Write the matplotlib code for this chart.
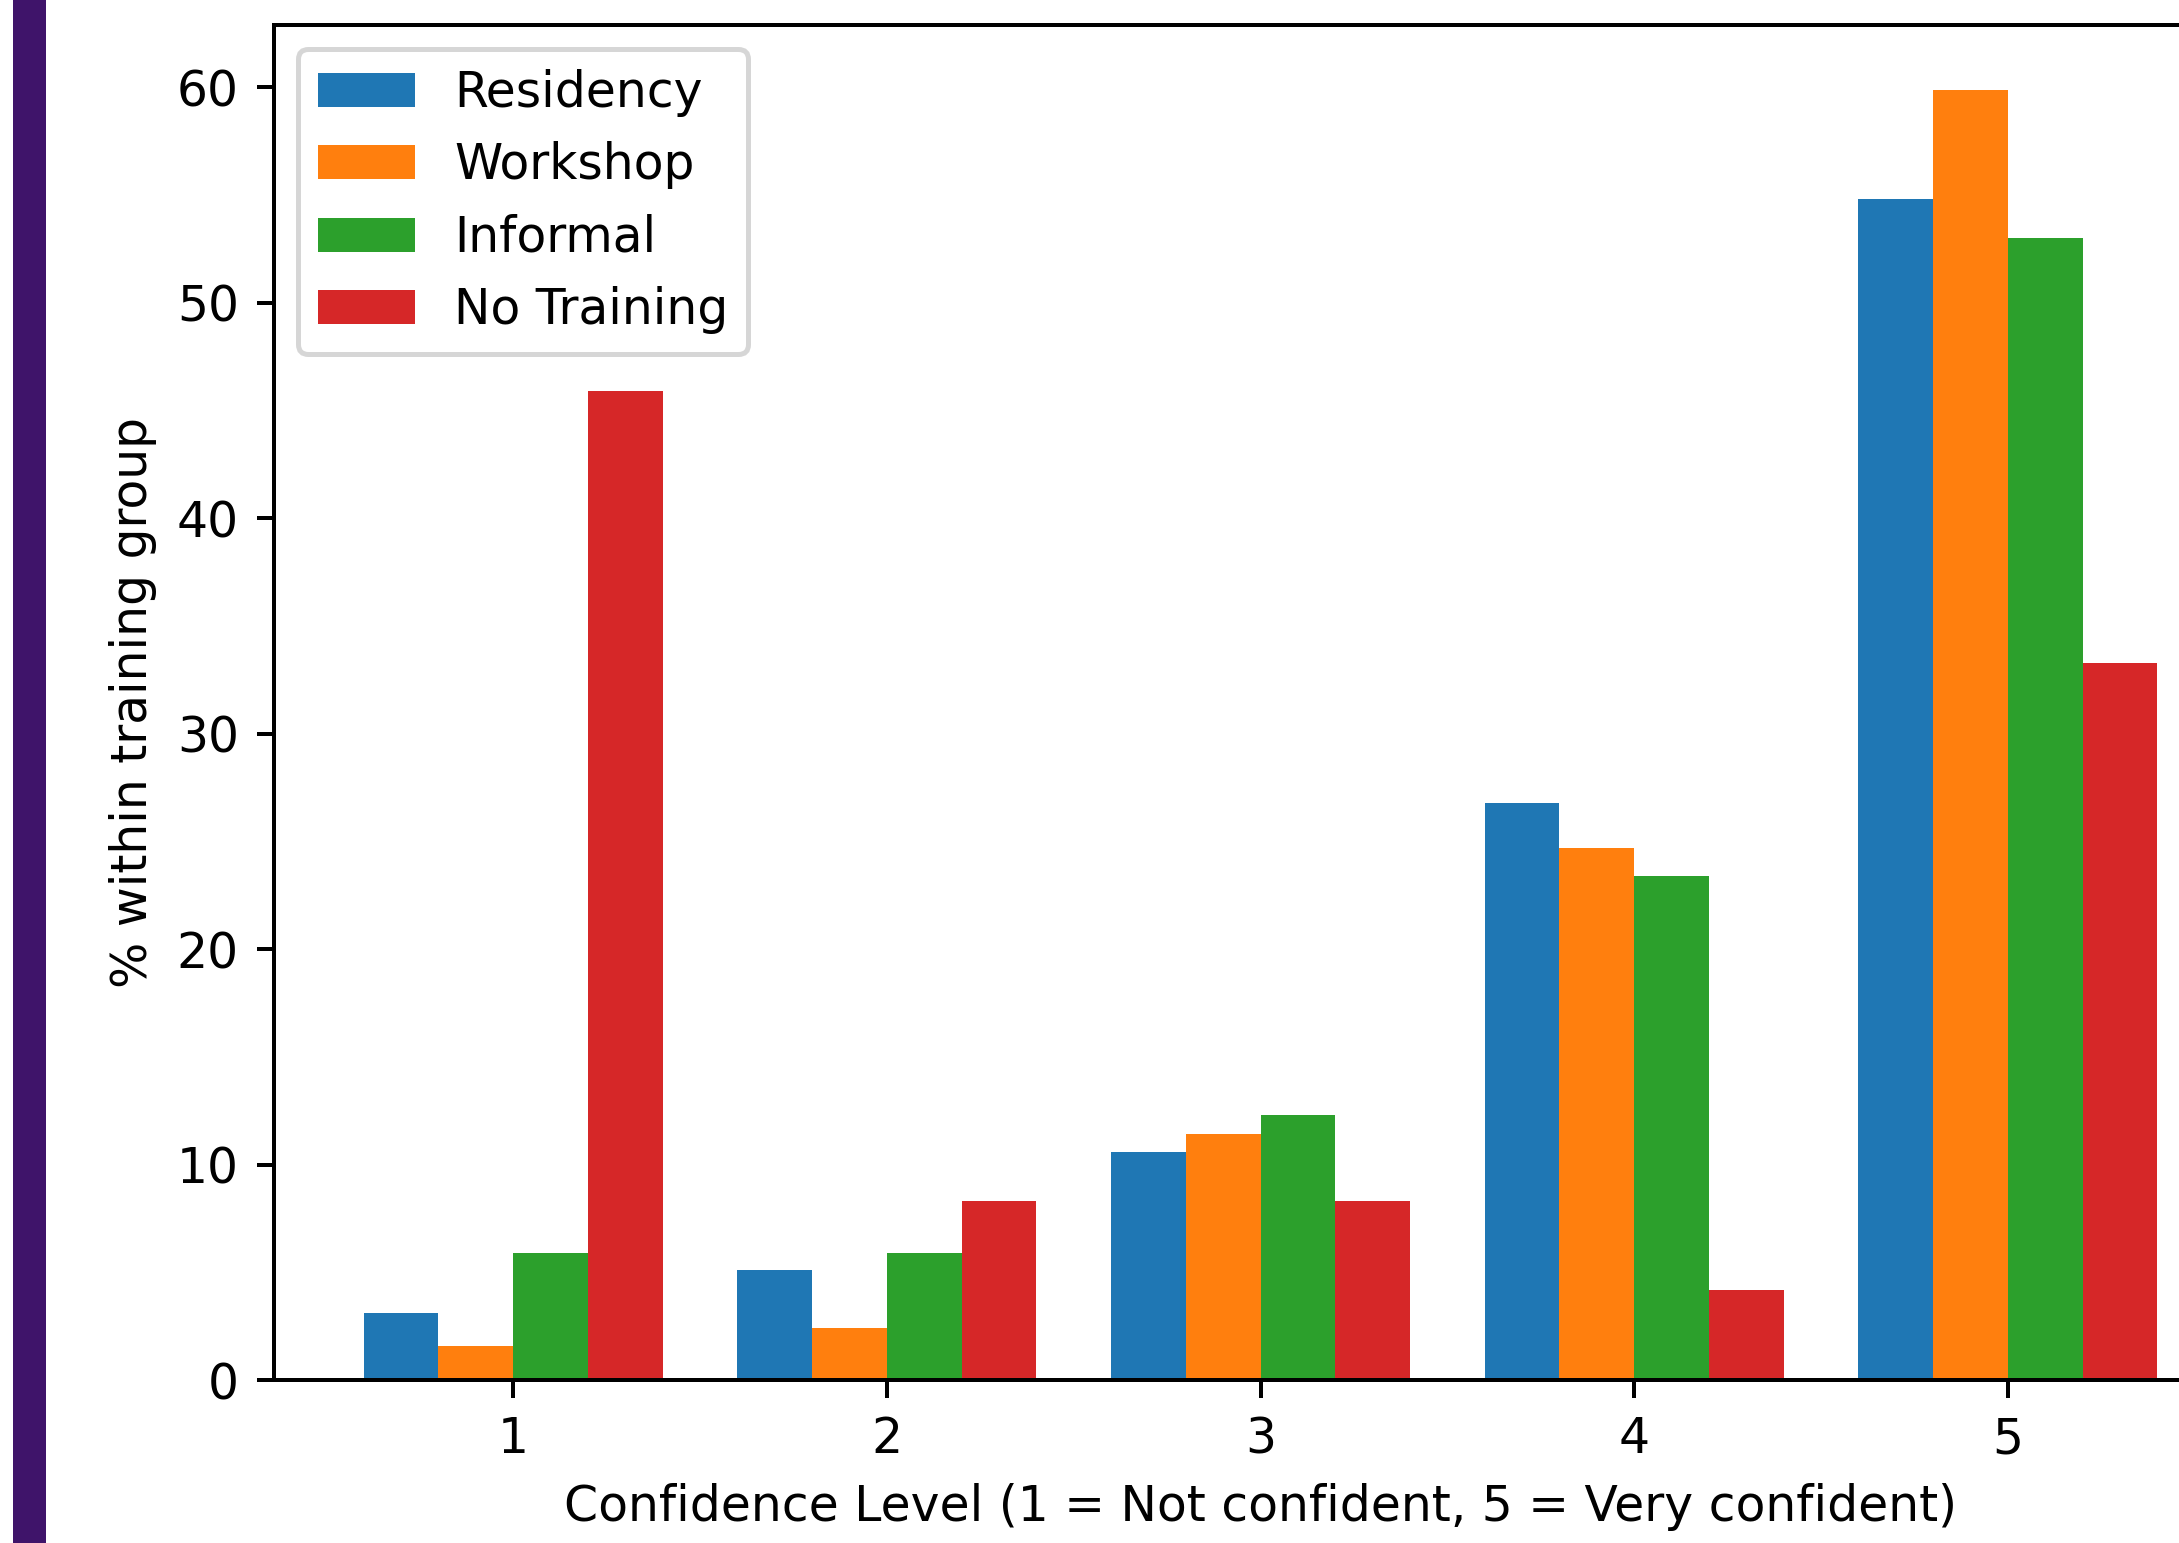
import matplotlib
matplotlib.use("Agg")
import matplotlib.pyplot as plt
import numpy as np
from matplotlib.patches import Rectangle

# ---- Data ----------------------------------------------------------------
levels = [1, 2, 3, 4, 5]
groups = ["Residency", "Workshop", "Informal", "No Training"]

residency   = [3.1, 5.1, 10.6, 26.8, 54.8]
workshop    = [1.6, 2.4, 11.4, 24.7, 59.9]
informal    = [5.9, 5.9, 12.3, 23.4, 53.0]
no_training = [45.9, 8.3, 8.3, 4.2, 33.3]

series = [residency, workshop, informal, no_training]

# ---- Figure setup --------------------------------------------------------
plt.rcParams["font.size"] = 9.75

DPI = 360
fig = plt.figure(figsize=(2179 / DPI, 1543 / DPI), dpi=DPI)

# purple sidebar strip on the left edge
fig.patches.append(Rectangle((13 / 2179, 0), 33 / 2179, 1,
                             transform=fig.transFigure,
                             facecolor="#3f146a", edgecolor="none"))

ax = fig.add_axes([274 / 2179, 163 / 1543, 1973 / 2179, 1355 / 1543])

x = np.array(levels)
width = 0.2
for i, (name, vals) in enumerate(zip(groups, series)):
    ax.bar(x + (i - 1.5) * width, vals, width, label=name)

ax.set_xticks(x)
ax.set_xlabel("Confidence Level (1 = Not confident, 5 = Very confident)")
ax.set_ylabel("% within training group")
ax.legend(loc="upper left")

fig.savefig("out.png", dpi=DPI)
